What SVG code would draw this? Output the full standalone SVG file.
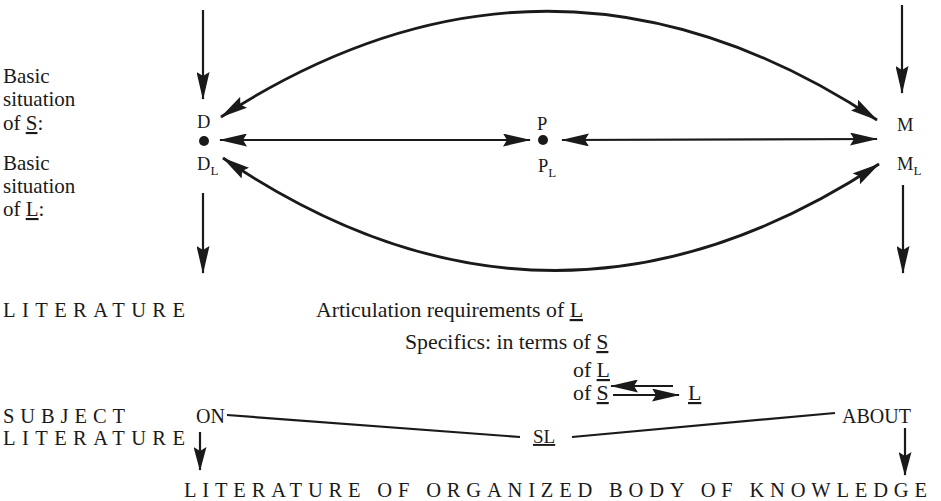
<svg xmlns="http://www.w3.org/2000/svg" width="941" height="501" viewBox="0 0 941 501" font-family="'Liberation Serif', 'Times New Roman', 'DejaVu Serif', serif">
<style>
text{font-family:'Liberation Serif','Times New Roman','DejaVu Serif',serif;fill:#1a1a1a}
.t{font-size:21.8px}
.s{font-size:21px}
.lbl{font-size:18.5px}
.sub{font-size:13px}
.caps{font-size:20.5px}
.u{text-decoration:underline}
.ln{fill:none;stroke:#1a1a1a;stroke-width:2.2}
.cv{fill:none;stroke:#1a1a1a;stroke-width:2.8}
</style>
<defs>
<marker id="ah" markerUnits="userSpaceOnUse" viewBox="0 0 28 13" refX="27" refY="6.5" markerWidth="28" markerHeight="13" orient="auto-start-reverse">
<path d="M0,0 L28,6.5 L0,13 L4,6.5 z" fill="#1a1a1a"/>
</marker>
<marker id="ah2" markerUnits="userSpaceOnUse" viewBox="0 0 24 13" refX="23" refY="6.5" markerWidth="24" markerHeight="13" orient="auto-start-reverse">
<path d="M0,0 L24,6.5 L0,13 L4,6.5 z" fill="#1a1a1a"/>
</marker>
</defs>
<rect width="941" height="501" fill="#ffffff"/>

<g id="side-labels">
<text class="s" x="3" y="83">Basic</text>
<text class="s" x="3" y="106">situation</text>
<text class="s" x="3" y="130">of <tspan class="u">S</tspan>:</text>
<text class="s" x="3" y="170">Basic</text>
<text class="s" x="3" y="193">situation</text>
<text class="s" x="3" y="216">of <tspan class="u">L</tspan>:</text>
</g>

<g id="node-D">
<text class="lbl" x="197" y="128">D</text>
<circle cx="204" cy="141" r="5" fill="#1a1a1a"/>
<text class="lbl" x="197" y="170">D<tspan class="sub" dy="5">L</tspan></text>
</g>
<g id="node-P">
<text class="lbl" x="537" y="130">P</text>
<circle cx="543" cy="140" r="5" fill="#1a1a1a"/>
<text class="lbl" x="538" y="172">P<tspan class="sub" dy="5">L</tspan></text>
</g>
<g id="node-M">
<text class="lbl" x="897" y="131">M</text>
<text class="lbl" x="897" y="170">M<tspan class="sub" dy="5">L</tspan></text>
</g>

<g id="lower-text">
<text class="caps" x="3" y="317" textLength="182" lengthAdjust="spacing">LITERATURE</text>
<text class="t" x="316" y="317">Articulation requirements of <tspan class="u">L</tspan></text>
<text class="t" x="405" y="349">Specifics: in terms of <tspan class="u">S</tspan></text>
<text class="t" x="573" y="377">of <tspan class="u">L</tspan></text>
<text class="t" x="573" y="400">of <tspan class="u">S</tspan></text>
<text class="t" x="688" y="400"><tspan class="u">L</tspan></text>
</g>

<g id="node-SL">
<text class="caps" x="3" y="423" textLength="122" lengthAdjust="spacing">SUBJECT</text>
<text class="caps" x="3" y="445" textLength="182" lengthAdjust="spacing">LITERATURE</text>
<text class="t" x="196" y="423" style="font-size:20px">ON</text>
<text class="t" x="842" y="423" style="font-size:20px">ABOUT</text>
<text class="t" x="533" y="443" style="font-size:19px"><tspan class="u">SL</tspan></text>
<text class="caps" x="184" y="497" textLength="743" lengthAdjust="spacing">LITERATURE OF ORGANIZED BODY OF KNOWLEDGE</text>
</g>

<g id="connectors">
<line class="ln" x1="203" y1="10" x2="203" y2="99" marker-end="url(#ah)"/>
<line class="ln" x1="902" y1="5" x2="902" y2="93" marker-end="url(#ah)"/>
<line class="ln" x1="203" y1="193" x2="203" y2="273" marker-end="url(#ah)"/>
<line class="ln" x1="903" y1="185" x2="903" y2="273" marker-end="url(#ah)"/>
<path class="cv" d="M221,117 Q550,-96 877,120" marker-start="url(#ah)" marker-end="url(#ah)"/>
<path class="cv" d="M223,158 Q550,380 879,164" marker-start="url(#ah)" marker-end="url(#ah)"/>
<line class="ln" x1="220" y1="140" x2="530" y2="140" marker-start="url(#ah)" marker-end="url(#ah)"/>
<line class="ln" x1="562" y1="140" x2="877" y2="139" marker-start="url(#ah)" marker-end="url(#ah)"/>
<line class="ln" x1="673" y1="386" x2="611" y2="386" marker-end="url(#ah)"/>
<line class="ln" x1="613" y1="395" x2="679" y2="395" marker-end="url(#ah)"/>
<line class="ln" x1="227" y1="415" x2="520" y2="437"/>
<line class="ln" x1="572" y1="437" x2="835" y2="413"/>
<line class="ln" x1="200" y1="432" x2="200" y2="470" marker-end="url(#ah2)"/>
<line class="ln" x1="905" y1="428" x2="905" y2="475" marker-end="url(#ah2)"/>
</g>
</svg>
